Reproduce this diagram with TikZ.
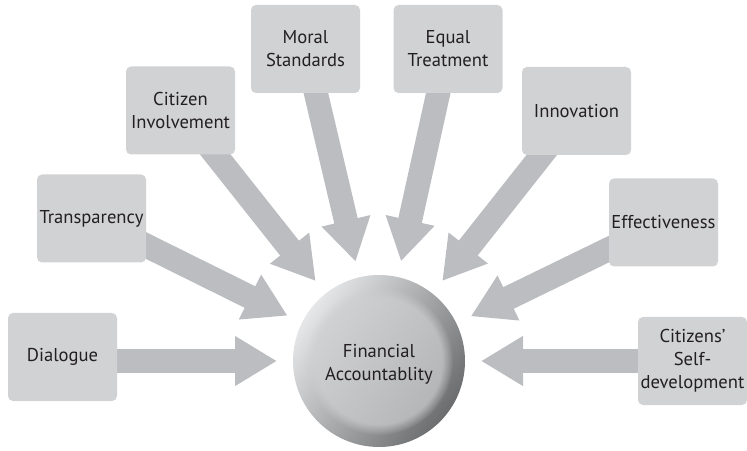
\documentclass[tikz,border=0pt]{standalone}
\usepackage{fontspec}
\setmainfont{PT Sans}
\usetikzlibrary{arrows.meta,calc,backgrounds,fadings}
\definecolor{boxgray}{HTML}{D1D2D4}
\definecolor{arrowgray}{HTML}{BCBDC0}
\definecolor{txt}{HTML}{231F20}
\definecolor{ringlight}{HTML}{E6E7E8}
\definecolor{ringdark}{HTML}{6B6C6E}
\definecolor{innerlight}{HTML}{D2D3D5}
\definecolor{innerdark}{HTML}{B3B4B6}
\begin{document}
\begin{tikzpicture}[x=1pt,y=1pt,
  box/.style={rectangle, rounded corners=5pt, fill=boxgray, minimum width=109pt,
    minimum height=88pt, inner sep=0pt, align=center, text=txt,
    font=\fontsize{18.6}{23}\selectfont},
  label/.style={align=center, text=txt, inner sep=0pt, font=\fontsize{18.6}{23}\selectfont},
  fat/.style={draw=arrowgray, line width=24pt, -{Triangle[length=42pt,width=47pt]}}]
\useasboundingbox (0,0) rectangle (747,450);
% boxes
\node[box] (dia) at (62.5,93) {Dialogue};
\node[box] (tra) at (91.5,231.5) {Transparency};
\node[box] (civ) at (180.5,339.5) {Citizen\\Involvement};
\node[box] (mor) at (305.5,401) {Moral\\Standards};
\node[box] (equ) at (448,401) {Equal\\Treatment};
\node[box] (inn) at (576.5,339) {Innovation};
\node[box] (eff) at (663.5,227.5) {Effectiveness};
\node[box] (sel) at (692.5,89) {Citizens’\\Self-\\development};
% central ball
\node[circle, minimum size=172pt, inner sep=0pt, top color=ringlight, bottom color=ringdark,
  shading angle=55] (fa) at (379,89) {};
\shade[top color=innerlight, bottom color=innerdark, shading angle=55,
  path fading=circle with fuzzy edge 15 percent] (fa.center) circle (74);
\node[label, yshift=-3pt] (fat) at (fa.center) {Financial\\Accountablity};
% arrows
\coordinate (diaS) at (dia.center |- fa.center);
\begin{pgfonlayer}{background}
\draw[fat] (diaS) -- ($(fa.center)!102pt!(diaS)$);
\draw[fat] (tra.center) -- ($(fa.center)!102pt!(tra.center)$);
\draw[fat] (civ.center) -- ($(fa.center)!102pt!(civ.center)$);
\draw[fat] (mor.center) -- ($(fa.center)!102pt!(mor.center)$);
\draw[fat] (equ.center) -- ($(fa.center)!102pt!(equ.center)$);
\draw[fat] (inn.center) -- ($(fa.center)!102pt!(inn.center)$);
\draw[fat] (eff.center) -- ($(fa.center)!102pt!(eff.center)$);
\draw[fat] (sel.center) -- ($(fa.center)!102pt!(sel.center)$);
\end{pgfonlayer}
\end{tikzpicture}
\end{document}
